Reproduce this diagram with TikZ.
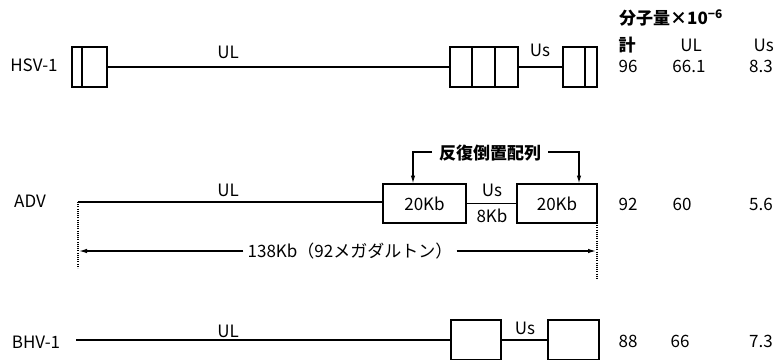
\documentclass[tikz,border=0pt]{standalone}
\usepackage{fontspec}
\setmainfont{Noto Sans CJK JP}
\usetikzlibrary{arrows.meta,calc}
\begin{document}
\begin{tikzpicture}[x=1pt,y=-1pt,
  seg/.style={draw, line width=1.2pt, rectangle, inner sep=0pt, outer sep=0pt},
  ln/.style={line width=1.2pt},
  lbl/.style={inner sep=0pt, font=\fontsize{17}{19}\selectfont},
  jp/.style={inner sep=0pt, font=\fontsize{17}{19}\selectfont},
  jpb/.style={inner sep=0pt, font=\fontsize{17}{19}\selectfont\bfseries},
  dots/.style={line width=1.6pt, dash pattern=on 0.9pt off 1.3pt},
  arr/.style={line width=1.2pt, -{Latex[length=8pt,width=4.5pt]}}]
\clip (0,0) rectangle (774,359);
\fill[white] (0,0) rectangle (774,359);
% ---------- header ----------
\node[jpb, anchor=west] (hdr) at (619,18) {分子量×10\textsuperscript{−6}};
\node[jpb] (hk) at (627,45) {計};
\node[lbl] (hul) at (691,45) {UL};
\node[lbl, anchor=east] (hus) at (774,45) {Us};
% ---------- HSV-1 ----------
\node[lbl] (hsv) at (34,65) {HSV-1};
\node[seg, minimum width=35pt, minimum height=40pt] (h1) at (89.5,67) {};
\draw[ln] (82,47) -- (82,87);
\node[seg, minimum width=68pt, minimum height=40pt] (h2) at (484,67) {};
\draw[ln] (472,47) -- (472,87) (495,47) -- (495,87);
\node[seg, minimum width=34pt, minimum height=40pt] (h3) at (580,67) {};
\draw[ln] (585,47) -- (585,87);
\draw[ln] (h1.east) -- (h2.west);
\draw[ln] (h2.east) -- (h3.west);
\node[lbl] (hulL) at (228,52) {UL};
\node[lbl] (husL) at (540,50) {Us};
\node[lbl] (h96) at (628,66) {96};
\node[lbl] (h661) at (689,66) {66.1};
\node[lbl, anchor=east] (h83) at (773,66) {8.3};
% ---------- ADV ----------
\node[lbl] (adv) at (30,201) {ADV};
\coordinate (a0) at (78,202);
\node[seg, minimum width=83pt, minimum height=39pt] (a1) at (424.5,203.5) {};
\node[seg, minimum width=80pt, minimum height=39pt] (a2) at (557,203.5) {};
\node[lbl] at (a1) {20Kb};
\node[lbl] at (a2) {20Kb};
\draw[ln] (a0) -- (a0 -| a1.west);
\draw[ln] (a1.east) -- (a2.west);
\node[lbl] (aul) at (228,190) {UL};
\node[lbl] (aus) at (492,190) {Us};
\node[lbl] (a8) at (492,216) {8Kb};
\node[jpb] (inv) at (490,153) {反復倒置配列};
\coordinate (al) at (413,183.5);
\coordinate (ar) at (579,183.5);
\draw[arr] (432,152) -- (413,152) -- (al);
\draw[arr] (548,152) -- (579,152) -- (ar);
\node[lbl] (a92) at (628,204) {92};
\node[lbl] (a60) at (682,204) {60};
\node[lbl, anchor=east] (a56) at (773,204) {5.6};
% dimension
\coordinate (dl) at (78,268);
\coordinate (dr) at (597,280);
\draw[dots] (a0) -- (dl);
\draw[dots] (a2.south east) -- (dr);
\node[jp] (dim) at (350,251) {138Kb（92メガダルトン）};
\draw[arr] (dim.west) ++(-4,0) -- (79,251);
\draw[arr] (dim.east) ++(4,0) -- (596,251);
% ---------- BHV-1 ----------
\node[lbl] (bhv) at (36,342) {BHV-1};
\coordinate (b0) at (76,340);
\node[seg, minimum width=50pt, minimum height=40pt] (b1) at (476,340) {};
\node[seg, minimum width=51pt, minimum height=40pt] (b2) at (573.5,340) {};
\draw[ln] (b0) -- (b1.west);
\draw[ln] (b1.east) -- (b2.west);
\node[lbl] (bul) at (228,331) {UL};
\node[lbl] (bus) at (525,328) {Us};
\node[lbl] (b88) at (628,341) {88};
\node[lbl] (b66) at (680,341) {66};
\node[lbl, anchor=east] (b73) at (773,341) {7.3};
\end{tikzpicture}
\end{document}
